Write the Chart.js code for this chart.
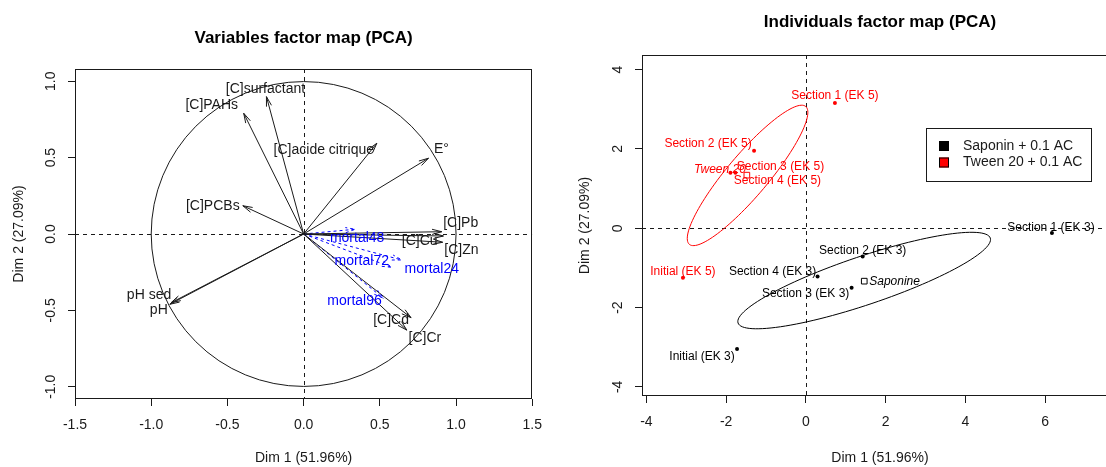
<!DOCTYPE html>
<html><head><meta charset="utf-8">
<script src="https://cdn.jsdelivr.net/npm/chart.js@4.4.0/dist/chart.umd.min.js"></script>
<style>
html,body{margin:0;padding:0;background:#fff;overflow:hidden;}
#wrap{position:relative;width:1106px;height:467px;overflow:hidden;background:#fff;}
#c1{position:absolute;left:0;top:0;}
#c2{position:absolute;left:553px;top:0;}
</style></head><body>
<div id="wrap"><canvas id="c1" width="553" height="467"></canvas><canvas id="c2" width="577" height="467"></canvas></div>
<script>
// ---------------- data: variables factor map ----------------
const varNames = ['[C]surfactant','[C]PAHs','[C]acide citrique','E°','[C]PCBs','[C]Pb','[C]Cu','[C]Zn','[C]Cd','[C]Cr','pH sed','pH'];
const varDim1  = [-0.244,-0.393, 0.480, 0.819,-0.399, 0.906, 0.912, 0.917, 0.705, 0.677,-0.870,-0.878];
const varDim2  = [ 0.899, 0.790, 0.594, 0.496, 0.185, 0.015,-0.054,-0.013,-0.548,-0.629,-0.450,-0.460];
const supVarNames = ['mortal24','mortal48','mortal72','mortal96'];
const supVarDim1  = [0.644, 0.338, 0.578, 0.524];
const supVarDim2  = [-0.170, 0.031,-0.218,-0.421];
const leftXTicks = [-1.5,-1.0,-0.5,0.0,0.5,1.0,1.5];
const leftXTickLabels = ['-1.5','-1.0','-0.5','0.0','0.5','1.0','1.5'];
const leftYTicks = [-1.0,-0.5,0.0,0.5,1.0];
const leftYTickLabels = ['-1.0','-0.5','0.0','0.5','1.0'];

// ---------------- data: individuals factor map ----------------
const sapNames = ['Initial (EK 3)','Section 1 (EK 3)','Section 2 (EK 3)','Section 3 (EK 3)','Section 4 (EK 3)'];
const sapDim1  = [-1.726, 6.173, 1.425, 1.148, 0.294];
const sapDim2  = [-3.046,-0.119,-0.709,-1.501,-1.215];
const tweNames = ['Initial (EK 5)','Section 1 (EK 5)','Section 2 (EK 5)','Section 3 (EK 5)','Section 4 (EK 5)'];
const tweDim1  = [-3.083, 0.729,-1.299,-1.766,-1.892];
const tweDim2  = [-1.248, 3.157, 1.957, 1.400, 1.400];
const groupNames = ['Saponine','Tween 20'];
const groupDim1  = [1.465,-1.480];
const groupDim2  = [-1.334, 1.340];
const legendLabels = ['Saponin + 0.1 AC','Tween 20 + 0.1 AC'];
// confidence ellipses: centre, semi-axes, angle (deg)
const ellCenterX = [1.463,-1.462];
const ellCenterY = [-1.318, 1.333];
const ellSemiMajor = [3.34, 2.27];
const ellSemiMinor = [0.61, 0.52];
const ellAngle = [18.7, 50];
const rightXTicks = [-4,-2,0,2,4,6];
const rightXTickLabels = ['-4','-2','0','2','4','6'];
const rightYTicks = [-4,-2,0,2,4];
const rightYTickLabels = ['-4','-2','0','2','4'];

// ---------------- layout / style ----------------
const FONT = "'Liberation Sans', Arial, sans-serif";
const INK = '#1a1a1a';
const varLabelOffset = [[-1,-8],[-32,-8],[-53,7],[13,-9],[-30,0],[19,-9],[-23,-1],[18,14],[-20,2],[18,8],[-22,-8],[-11,6]];
const supLabelOffset = [[30,9],[2,9],[-30,-6],[-29,3]];
const sapLabelOffset = [[-35,8],[-1,-5],[0,-6],[-46,6],[-45,-5]];
const tweLabelOffset = [[0,-6],[0,-7],[-46,-7],[45,-6],[47,8]];

function arrowHead(ctx,x0,y0,x1,y1,len,angDeg){
  const ang = Math.atan2(y1-y0,x1-x0), a = angDeg*Math.PI/180;
  ctx.beginPath();
  ctx.moveTo(x1-len*Math.cos(ang-a), y1-len*Math.sin(ang-a));
  ctx.lineTo(x1,y1);
  ctx.lineTo(x1-len*Math.cos(ang+a), y1-len*Math.sin(ang+a));
  ctx.stroke();
}
function drawBox(ctx,a){
  ctx.save();
  ctx.strokeStyle=INK; ctx.lineWidth=1; ctx.setLineDash([]);
  const l=Math.round(a.left)+0.5, t=Math.round(a.top)+0.5, r=Math.round(a.right)-0.5, b=Math.round(a.bottom)-0.5;
  ctx.strokeRect(l,t,r-l,b-t);
  ctx.restore();
}
function zeroLines(ctx,a,x,y){
  ctx.save();
  ctx.beginPath(); ctx.rect(a.left,a.top,a.right-a.left,a.bottom-a.top); ctx.clip();
  ctx.strokeStyle=INK; ctx.lineWidth=1; ctx.setLineDash([4,4]);
  const x0=Math.round(x.getPixelForValue(0))+0.5, y0=Math.round(y.getPixelForValue(0))+0.5;
  ctx.beginPath(); ctx.moveTo(a.left,y0); ctx.lineTo(a.right,y0); ctx.stroke();
  ctx.beginPath(); ctx.moveTo(x0,a.top); ctx.lineTo(x0,a.bottom); ctx.stroke();
  ctx.restore();
}
function yTickLabels(ctx,a,y,ticks,labels,dx){
  ctx.save();
  ctx.fillStyle=INK; ctx.font='14px '+FONT; ctx.textAlign='center'; ctx.textBaseline='middle';
  ticks.forEach((v,i)=>{
    ctx.save(); ctx.translate(a.left-dx, y.getPixelForValue(v)); ctx.rotate(-Math.PI/2);
    ctx.fillText(labels[i],0,0); ctx.restore();
  });
  ctx.restore();
}
function axisTitles(ctx,a,xt,yt,yx,xy){
  ctx.save();
  ctx.fillStyle=INK; ctx.font='14px '+FONT; ctx.textAlign='center'; ctx.textBaseline='middle';
  ctx.fillText(xt,(a.left+a.right)/2,xy);
  ctx.translate(a.left-yx,(a.top+a.bottom)/2); ctx.rotate(-Math.PI/2); ctx.fillText(yt,0,0);
  ctx.restore();
}
function mainTitle(ctx,a,t,ty){
  ctx.save(); ctx.fillStyle='#000'; ctx.font='bold 17px '+FONT; ctx.textAlign='center'; ctx.textBaseline='middle';
  ctx.fillText(t,(a.left+a.right)/2,ty); ctx.restore();
}
function scaleOpts(min,max,ticks,labels,fitSize,isX,showLabels){
  return {
    type:'linear', min, max,
    afterBuildTicks: s => { s.ticks = ticks.map(v=>({value:v})); },
    afterFit: s => { if(isX) s.height=fitSize; else s.width=fitSize; },
    grid:{display:true, drawOnChartArea:false, drawTicks:true, tickLength:7, color:INK, lineWidth:1},
    border:{display:false},
    ticks:{display:showLabels, autoSkip:false, maxRotation:0, minRotation:0, padding:11, color:INK,
      font:{family:FONT,size:14}, callback:(v,i)=>labels[i]}
  };
}

// ---------------- left chart ----------------
const leftDatasets = [];
varNames.forEach((n,i)=>leftDatasets.push({label:n, data:[{x:0,y:0},{x:varDim1[i],y:varDim2[i]}],
  showLine:true, borderColor:INK, borderWidth:1, pointRadius:0, fill:false, kind:'act', idx:i}));
supVarNames.forEach((n,i)=>leftDatasets.push({label:n, data:[{x:0,y:0},{x:supVarDim1[i],y:supVarDim2[i]}],
  showLine:true, borderColor:'#0000FF', borderWidth:1, borderDash:[3,3], pointRadius:0, fill:false, kind:'sup', idx:i}));

const leftPlugin = {
  id:'leftPlugin',
  beforeDatasetsDraw(chart){
    const {ctx, chartArea:a, scales:{x,y}} = chart;
    drawBox(ctx,a);
    zeroLines(ctx,a,x,y);
    ctx.save();
    ctx.strokeStyle=INK; ctx.lineWidth=1;
    const cx=x.getPixelForValue(0), cy=y.getPixelForValue(0), r=x.getPixelForValue(1)-cx;
    ctx.beginPath(); ctx.arc(cx,cy,r,0,Math.PI*2); ctx.stroke();
    ctx.restore();
  },
  afterDatasetsDraw(chart){
    const {ctx} = chart;
    ctx.save();
    ctx.font='14px '+FONT; ctx.textAlign='center'; ctx.textBaseline='middle';
    chart.data.datasets.forEach((ds,k)=>{
      const m = chart.getDatasetMeta(k), p0=m.data[0], p1=m.data[1];
      ctx.strokeStyle = ds.borderColor; ctx.lineWidth=1;
      ctx.setLineDash(ds.kind==='sup'?[3,3]:[]);
      arrowHead(ctx,p0.x,p0.y,p1.x,p1.y,10,15);
      ctx.setLineDash([]);
      const off = ds.kind==='sup' ? supLabelOffset[ds.idx] : varLabelOffset[ds.idx];
      ctx.fillStyle = ds.kind==='sup' ? '#0000FF' : INK;
      ctx.fillText(ds.label, p1.x+off[0], p1.y+off[1]);
    });
    ctx.restore();
  },
  afterDraw(chart){
    const {ctx, chartArea:a, scales:{y}} = chart;
    yTickLabels(ctx,a,y,leftYTicks,leftYTickLabels,24);
    axisTitles(ctx,a,'Dim 1 (51.96%)','Dim 2 (27.09%)',56,458);
    mainTitle(ctx,a,'Variables factor map (PCA)',38);
  }
};

new Chart(document.getElementById('c1'),{
  type:'scatter',
  data:{datasets:leftDatasets},
  options:{
    responsive:false, animation:false, devicePixelRatio:1,
    layout:{padding:{top:69,right:20,left:0,bottom:0}},
    plugins:{legend:{display:false},title:{display:false},tooltip:{enabled:false}},
    scales:{
      x:{position:'bottom', ...scaleOpts(-1.5,1.5,leftXTicks,leftXTickLabels,68,true,true)},
      y:{position:'left', ...scaleOpts(-1.08,1.08,leftYTicks,leftYTickLabels,75,false,false)}
    }
  },
  plugins:[leftPlugin]
});

// ---------------- right chart ----------------
const rightDatasets = [
  {label:legendLabels[0], data:sapDim1.map((v,i)=>({x:v,y:sapDim2[i]})), names:sapNames, offs:sapLabelOffset,
   pointRadius:2, pointBackgroundColor:'#000', pointBorderColor:'#000', pointBorderWidth:0, color:'#000'},
  {label:legendLabels[1], data:tweDim1.map((v,i)=>({x:v,y:tweDim2[i]})), names:tweNames, offs:tweLabelOffset,
   pointRadius:2, pointBackgroundColor:'#FF0000', pointBorderColor:'#FF0000', pointBorderWidth:0, color:'#FF0000'},
  {label:groupNames[0], data:[{x:groupDim1[0],y:groupDim2[0]}], pointStyle:'rect', pointRadius:4,
   pointBackgroundColor:'rgba(0,0,0,0)', pointBorderColor:'#000', pointBorderWidth:1, color:'#000', grp:true, align:'left', off:[5,0]},
  {label:groupNames[1], data:[{x:groupDim1[1],y:groupDim2[1]}], pointStyle:'rect', pointRadius:4,
   pointBackgroundColor:'rgba(0,0,0,0)', pointBorderColor:'#FF0000', pointBorderWidth:1, color:'#FF0000', grp:true, align:'right', off:[-1,-5]}
];
const ellColors = ['#000000','#FF0000'];

const rightPlugin = {
  id:'rightPlugin',
  beforeDatasetsDraw(chart){
    const {ctx, chartArea:a, scales:{x,y}} = chart;
    drawBox(ctx,a);
    zeroLines(ctx,a,x,y);
    ctx.save();
    ctx.lineWidth=1;
    ellCenterX.forEach((cxv,i)=>{
      const th = ellAngle[i]*Math.PI/180, A=ellSemiMajor[i], B=ellSemiMinor[i];
      ctx.strokeStyle=ellColors[i];
      ctx.beginPath();
      for(let k=0;k<=120;k++){
        const t=2*Math.PI*k/120, u=A*Math.cos(t), v=B*Math.sin(t);
        const px=x.getPixelForValue(cxv+u*Math.cos(th)-v*Math.sin(th));
        const py=y.getPixelForValue(ellCenterY[i]+u*Math.sin(th)+v*Math.cos(th));
        if(k===0) ctx.moveTo(px,py); else ctx.lineTo(px,py);
      }
      ctx.stroke();
    });
    ctx.restore();
  },
  afterDatasetsDraw(chart){
    const {ctx} = chart;
    ctx.save();
    ctx.textBaseline='middle';
    chart.data.datasets.forEach((ds,k)=>{
      const m=chart.getDatasetMeta(k);
      ctx.fillStyle=ds.color;
      if(ds.grp){
        ctx.font='italic 12px '+FONT; ctx.textAlign=ds.align;
        const p=m.data[0]; ctx.fillText(ds.label,p.x+ds.off[0],p.y+ds.off[1]);
      } else {
        ctx.font='12px '+FONT; ctx.textAlign='center';
        m.data.forEach((p,i)=>ctx.fillText(ds.names[i],p.x+ds.offs[i][0],p.y+ds.offs[i][1]));
      }
    });
    ctx.restore();
  },
  afterDraw(chart){
    const {ctx, chartArea:a, scales:{y}} = chart;
    yTickLabels(ctx,a,y,rightYTicks,rightYTickLabels,24);
    axisTitles(ctx,a,'Dim 1 (51.96%)','Dim 2 (27.09%)',57,458);
    mainTitle(ctx,a,'Individuals factor map (PCA)',22);
    // legend (top right, inside plot)
    ctx.save();
    const lx=a.left+(926-642), ly=a.top+(128-55);
    ctx.fillStyle='#fff'; ctx.fillRect(lx,ly,165,53);
    ctx.strokeStyle=INK; ctx.lineWidth=1; ctx.strokeRect(lx+0.5,ly+0.5,165,53);
    ctx.font='14px '+FONT; ctx.textAlign='left'; ctx.textBaseline='middle';
    [0,1].forEach(i=>{
      const ds=chart.data.datasets[i], cy=ly+18+i*16.5;
      ctx.fillStyle=ds.color; ctx.fillRect(lx+13,cy-5,10,10);
      ctx.strokeStyle='#000'; ctx.strokeRect(lx+13.5,cy-4.5,9,9);
      ctx.fillStyle=INK; ctx.fillText(ds.label,lx+37,cy);
    });
    ctx.restore();
  }
};

new Chart(document.getElementById('c2'),{
  type:'scatter',
  data:{datasets:rightDatasets},
  options:{
    responsive:false, animation:false, devicePixelRatio:1,
    layout:{padding:{top:55,right:12,left:0,bottom:0}},
    plugins:{legend:{display:false},title:{display:false},tooltip:{enabled:false}},
    scales:{
      x:{position:'bottom', ...scaleOpts(-4.11,7.83,rightXTicks,rightXTickLabels,71,true,true)},
      y:{position:'left', ...scaleOpts(-4.23,4.37,rightYTicks,rightYTickLabels,89,false,false)}
    }
  },
  plugins:[rightPlugin]
});
</script>
</body></html>
